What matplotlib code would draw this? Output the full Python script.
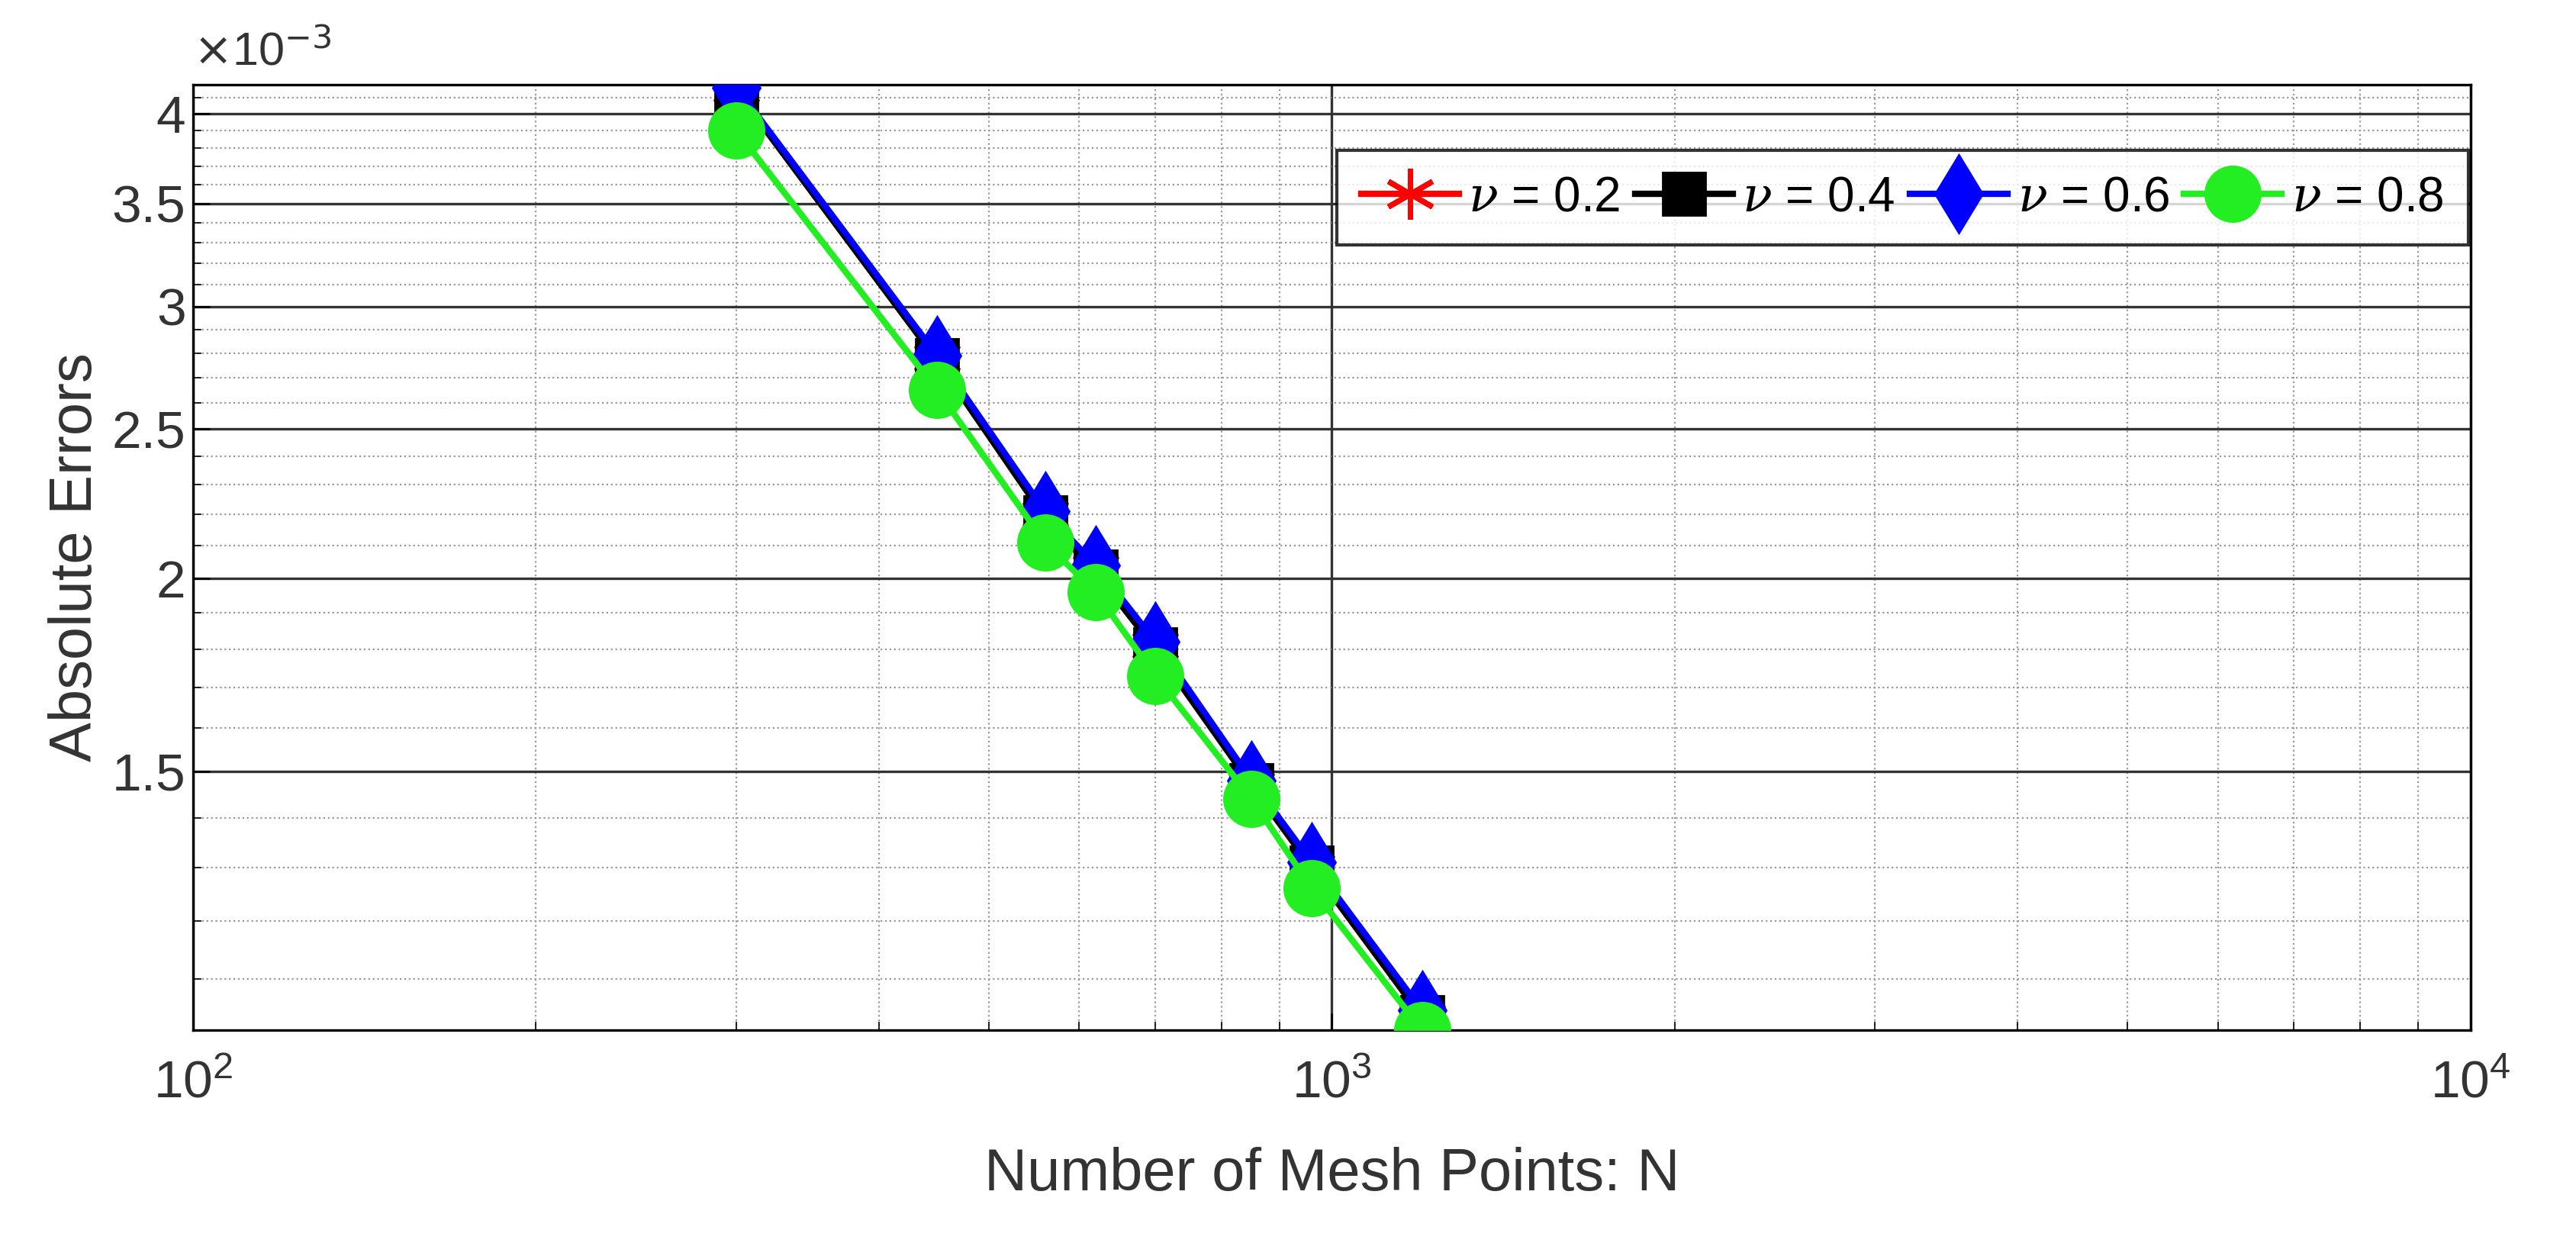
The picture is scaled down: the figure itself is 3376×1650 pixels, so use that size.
import matplotlib
matplotlib.use("Agg")
import matplotlib.pyplot as plt
from matplotlib.ticker import FixedLocator, FixedFormatter, NullFormatter

plt.rcParams['font.family'] = ['Liberation Sans', 'DejaVu Sans']
plt.rcParams['mathtext.fontset'] = 'custom'
plt.rcParams['mathtext.it'] = 'DejaVu Serif:italic'

N = [300, 450, 560, 620, 700, 850, 960, 1200]
err_02 = [4.15, 2.78, 2.20, 2.03, 1.81, 1.47, 1.30, 1.04]
err_04 = [4.14, 2.77, 2.19, 2.02, 1.80, 1.47, 1.30, 1.04]
err_06 = [4.16, 2.79, 2.21, 2.04, 1.82, 1.48, 1.31, 1.05]
err_08 = [3.90, 2.65, 2.11, 1.96, 1.73, 1.44, 1.26, 1.02]
labels = [r'$\nu$ = 0.2', r'$\nu$ = 0.4', r'$\nu$ = 0.6', r'$\nu$ = 0.8']

fig = plt.figure(figsize=(16.88, 8.25), dpi=200)
ax = fig.add_axes([0.075, 0.182, 0.884, 0.751])
s = 1e-3
ax.plot(N, [v*s for v in err_02], '-', marker=(6, 2, 0), color='red', lw=3, ms=24, mew=2.5, label=labels[0], zorder=3)
ax.plot(N, [v*s for v in err_04], '-s', color='black', lw=3, ms=20, label=labels[1], zorder=4)
ax.plot(N, [v*s for v in err_06], '-d', color='blue', lw=3, ms=26, label=labels[2], zorder=5)
ax.plot(N, [v*s for v in err_08], '-o', color='#22ee22', lw=3, ms=26, label=labels[3], zorder=6)

ax.set_xscale('log'); ax.set_yscale('log')
ax.set_xlim(100, 10000)
ax.set_ylim(1.02e-3, 4.18e-3)
yt = [1.5e-3, 2e-3, 2.5e-3, 3e-3, 3.5e-3, 4e-3]
ax.yaxis.set_major_locator(FixedLocator(yt))
ax.yaxis.set_major_formatter(FixedFormatter(['1.5', '2', '2.5', '3', '3.5', '4']))
ax.yaxis.set_minor_locator(FixedLocator([v*1e-4 for v in range(11, 42) if v % 5 != 0]))
ax.yaxis.set_minor_formatter(NullFormatter())
ax.grid(which='major', color='#333333', lw=1.2, ls='-')
ax.grid(which='minor', color='#999999', lw=0.8, ls=':')
ax.tick_params(labelsize=25, direction='in', length=8, width=1, labelcolor='#333333')
ax.tick_params(axis='x', pad=14)
ax.tick_params(which='minor', direction='in', length=4)
for sp in ax.spines.values():
    sp.set_linewidth(1.2)
ax.text(0.0, 1.01, r'$\times$10$^{-3}$', transform=ax.transAxes, fontsize=22, ha='left', va='bottom', color='#333333')
ax.set_xlabel('Number of Mesh Points: N', fontsize=28, labelpad=18, color='#333333')
ax.set_ylabel('Absolute Errors', fontsize=28, color='#333333')
leg = ax.legend(loc='upper right', ncol=4, fontsize=23, frameon=True, fancybox=False,
                edgecolor='black', handlelength=2.0, handletextpad=0.2, columnspacing=0.3,
                borderaxespad=0.0, bbox_to_anchor=(0.999, 0.93), borderpad=0.5)
leg.get_frame().set_linewidth(1.5)
fig.savefig('out.png', dpi=200)
